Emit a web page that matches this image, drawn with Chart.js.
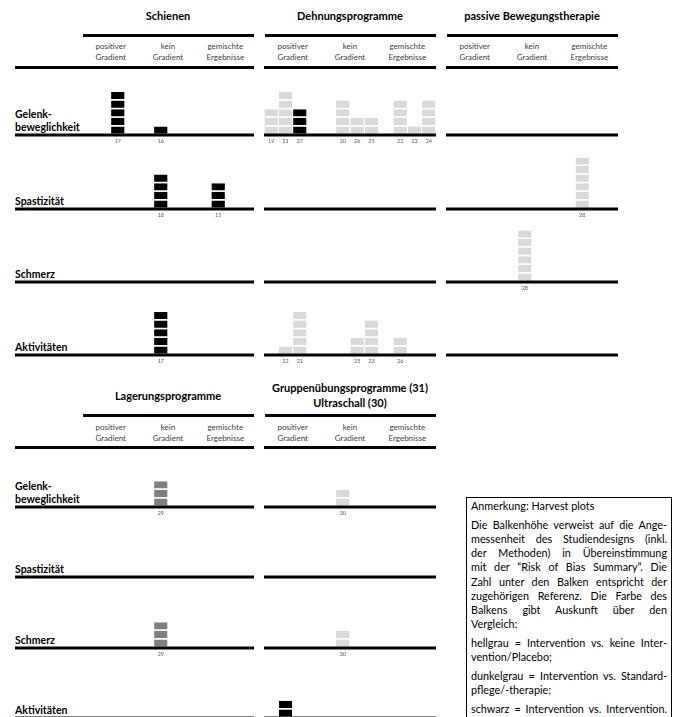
<!DOCTYPE html>
<html>
<head>
<meta charset="utf-8">
<script src="https://cdn.jsdelivr.net/npm/chart.js@4.4.0/dist/chart.umd.min.js"></script>
<style>
  html, body { margin: 0; padding: 0; background: #fff; }
  body { position: relative; width: 682px; height: 717px; overflow: hidden; font-family: Lato, "Open Sans", sans-serif; color: #000; }
  .title { position: absolute; font-weight: bold; font-size: 11px; line-height: 15px; text-align: center; white-space: nowrap; }
  .rule { position: absolute; height: 3px; background: #000; }
  .sub { position: absolute; font-size: 8px; line-height: 10.5px; text-align: center; color: #404040; white-space: nowrap; }
  .rowlabel { position: absolute; left: 15px; font-weight: bold; font-size: 10.5px; line-height: 12.5px; white-space: nowrap; }
  canvas { position: absolute; }
  .note { position: absolute; left: 466px; top: 497px; width: 196px; height: 240px; border: 1px solid #000; background: #fff; box-sizing: content-box; padding: 1px 4px 0 4px; font-size: 10.8px; line-height: 14.2px; }
  .note .l { white-space: nowrap; text-align: justify; text-align-last: justify; }
  .note .e { white-space: nowrap; text-align: left; }
  .note .gap { height: 4.5px; }
</style>
</head>
<body>
<div class="note">
  <div class="e">Anmerkung: Harvest plots</div>
  <div class="gap"></div>
  <div class="l">Die Balkenhöhe verweist auf die Ange-</div>
  <div class="l">messenheit des Studiendesigns (inkl.</div>
  <div class="l">der Methoden) in Übereinstimmung</div>
  <div class="l">mit der “Risk of Bias Summary”. Die</div>
  <div class="l">Zahl unter den Balken entspricht der</div>
  <div class="l">zugehörigen Referenz. Die Farbe des</div>
  <div class="l">Balkens gibt Auskunft über den</div>
  <div class="e">Vergleich:</div>
  <div class="gap"></div>
  <div class="l">hellgrau = Intervention vs. keine Inter-</div>
  <div class="e">vention/Placebo;</div>
  <div class="gap"></div>
  <div class="l">dunkelgrau = Intervention vs. Standard-</div>
  <div class="e">pflege/-therapie;</div>
  <div class="gap"></div>
  <div class="l">schwarz = Intervention vs. Intervention.</div>
</div>
<script>
// ---- data ----
const outcomes = ['Gelenk-\nbeweglichkeit', 'Spastizität', 'Schmerz', 'Aktivitäten'];
const gradients = ['positiver\nGradient', 'kein\nGradient', 'gemischte\nErgebnisse'];
const topInterventions = ['Schienen', 'Dehnungsprogramme', 'passive Bewegungstherapie'];
const bottomInterventions = ['Lagerungsprogramme', 'Gruppenübungsprogramme (31)\nUltraschall (30)'];

// one entry per bar: outcome row, slot on the 12-slot axis (4 slots per gradient column),
// reference number, bar height (study-design rating) and comparison (h/d/s)
const schienenOutcome = [0, 0, 1, 1, 3];
const schienenSlot    = [2, 5, 5, 9, 5];
const schienenRef     = ['17', '16', '18', '15', '17'];
const schienenHeight  = [5, 1, 4, 3, 5];
const schienenCmp     = ['s', 's', 's', 's', 's'];

const dehnungOutcome = [0, 0, 0, 0, 0, 0, 0, 0, 0, 3, 3, 3, 3, 3];
const dehnungSlot    = [0, 1, 2, 5, 6, 7, 9, 10, 11, 1, 2, 6, 7, 9];
const dehnungRef     = ['19', '21', '27', '20', '26', '25', '22', '23', '24', '22', '21', '25', '23', '26'];
const dehnungHeight  = [3, 5, 3, 4, 2, 2, 4, 1, 4, 1, 5, 2, 4, 2];
const dehnungCmp     = ['h', 'h', 's', 'h', 'h', 'h', 'h', 'h', 'h', 'h', 'h', 'h', 'h', 'h'];

const passivOutcome = [1, 2];
const passivSlot    = [9, 5];
const passivRef     = ['28', '28'];
const passivHeight  = [6, 6];
const passivCmp     = ['h', 'h'];

const lagerungOutcome = [0, 2];
const lagerungSlot    = [5, 5];
const lagerungRef     = ['29', '29'];
const lagerungHeight  = [3, 3];
const lagerungCmp     = ['d', 'd'];

const gruppeOutcome = [0, 2, 3];
const gruppeSlot    = [5, 5, 1];
const gruppeRef     = ['30', '30', '31'];
const gruppeHeight  = [2, 2, 2];
const gruppeCmp     = ['h', 'h', 's'];

// ---- styling / layout ----
const COLORS = { h: '#d9d9d9', d: '#808080', s: '#000000' };
const SLOTS = 12;
const MAX_LEVEL = 6;
const PANEL_W = 172;
const PLOT_H = 60;        // chart area height above each baseline
const UNIT_PX = 8.6;      // pixels per rating step
const TICK_BAND = 14;     // room for the reference numbers under the baseline
const LABEL_LEFT = 15;

const sections = [
  {
    titles: topInterventions, lefts: [82, 264, 446],
    titleCenter: 15, rule1: 34, rule2: 66, subTop: 41,
    axes: [135, 209, 282, 355],
    panels: [
      [schienenOutcome, schienenSlot, schienenRef, schienenHeight, schienenCmp],
      [dehnungOutcome, dehnungSlot, dehnungRef, dehnungHeight, dehnungCmp],
      [passivOutcome, passivSlot, passivRef, passivHeight, passivCmp]
    ]
  },
  {
    titles: bottomInterventions, lefts: [82, 264],
    titleCenter: 395, rule1: 414, rule2: 446, subTop: 422,
    axes: [507, 577, 648, 718],
    panels: [
      [lagerungOutcome, lagerungSlot, lagerungRef, lagerungHeight, lagerungCmp],
      [gruppeOutcome, gruppeSlot, gruppeRef, gruppeHeight, gruppeCmp]
    ]
  }
];

function el(cls, css, text) {
  const d = document.createElement('div');
  d.className = cls;
  Object.assign(d.style, css);
  if (text !== undefined) d.innerHTML = text.split('\n').join('<br>');
  document.body.appendChild(d);
  return d;
}

// baseline under each outcome row (the first panel's line runs under the row label too)
const baselinePlugin = {
  id: 'baseline',
  afterDatasetsDraw(chart, args, opts) {
    const { ctx, chartArea } = chart;
    const y = chart.scales.y.getPixelForValue(0);
    const x0 = opts.fromCanvasEdge ? 0 : chartArea.left;
    ctx.save();
    ctx.fillStyle = '#000';
    ctx.fillRect(x0, y - 1.5, chartArea.right - x0, 3);
    ctx.restore();
  }
};

function rowData(panel, row) {
  const [outArr, slotArr, refArr, hArr, cmpArr] = panel;
  const labels = Array(SLOTS).fill('');
  const heights = Array(SLOTS).fill(0);
  const colors = Array(SLOTS).fill('rgba(0,0,0,0)');
  outArr.forEach((o, i) => {
    if (o !== row) return;
    labels[slotArr[i]] = refArr[i];
    heights[slotArr[i]] = hArr[i];
    colors[slotArr[i]] = COLORS[cmpArr[i]];
  });
  return { labels, heights, colors };
}

function drawRow(left, axisY, panel, row, firstPanel) {
  const padLeft = firstPanel ? left - LABEL_LEFT : 0;
  const canvas = document.createElement('canvas');
  const w = PANEL_W + padLeft;
  const h = PLOT_H + TICK_BAND;
  canvas.width = w; canvas.height = h;
  canvas.style.width = w + 'px'; canvas.style.height = h + 'px';
  canvas.style.left = (left - padLeft) + 'px';
  canvas.style.top = (axisY - PLOT_H) + 'px';
  document.body.appendChild(canvas);

  const { labels, heights, colors } = rowData(panel, row);
  const datasets = [];
  for (let k = 1; k <= MAX_LEVEL; k++) {
    datasets.push({
      data: heights.map(v => (v >= k ? 1 : null)),
      backgroundColor: colors,
      borderColor: '#ffffff',
      borderWidth: { top: 0, left: 0, right: 0, bottom: 1.5 },
      borderSkipped: false,
      barPercentage: 0.94,
      categoryPercentage: 1,
      stack: 'rating'
    });
  }

  new Chart(canvas, {
    type: 'bar',
    data: { labels, datasets },
    plugins: [baselinePlugin],
    options: {
      responsive: false,
      animation: false,
      devicePixelRatio: 1,
      events: [],
      layout: { padding: { left: padLeft, right: 0, top: 0, bottom: 0 } },
      plugins: {
        legend: { display: false },
        tooltip: { enabled: false },
        baseline: { fromCanvasEdge: firstPanel }
      },
      scales: {
        x: {
          type: 'category',
          stacked: true,
          grid: { display: false, drawTicks: false },
          border: { display: false },
          ticks: {
            autoSkip: false, maxRotation: 0, minRotation: 0, padding: 3,
            color: '#595959', font: { family: 'Lato', size: 5.5 }
          },
          afterFit(scale) { scale.height = TICK_BAND; }
        },
        y: { display: false, stacked: true, min: 0, max: PLOT_H / UNIT_PX }
      }
    }
  });
}

sections.forEach(sec => {
  sec.titles.forEach((t, p) => {
    const lines = t.split('\n').length;
    el('title', { left: sec.lefts[p] + 'px', width: PANEL_W + 'px', top: (sec.titleCenter - lines * 7.5) + 'px' }, t);
  });
  sec.lefts.forEach((x0, p) => {
    el('rule', { left: (x0 + 1) + 'px', width: (PANEL_W - 1) + 'px', top: sec.rule1 + 'px' });
    const start = p === 0 ? LABEL_LEFT : x0;
    el('rule', { left: start + 'px', width: (x0 + PANEL_W - start) + 'px', top: sec.rule2 + 'px' });
    gradients.forEach((g, c) => {
      el('sub', { left: (x0 + c * PANEL_W / 3) + 'px', width: (PANEL_W / 3) + 'px', top: sec.subTop + 'px' }, g);
    });
  });
  outcomes.forEach((o, r) => {
    const axisY = sec.axes[r];
    const lines = o.split('\n').length;
    const top = lines > 1 ? axisY - 27 : axisY - 14;
    el('rowlabel', { top: top + 'px' }, o);
    sec.panels.forEach((panel, p) => drawRow(sec.lefts[p], axisY, panel, r, p === 0));
  });
});

// keep the note box above the lowest row's canvases
document.body.appendChild(document.querySelector('.note'));
</script>
</body>
</html>
